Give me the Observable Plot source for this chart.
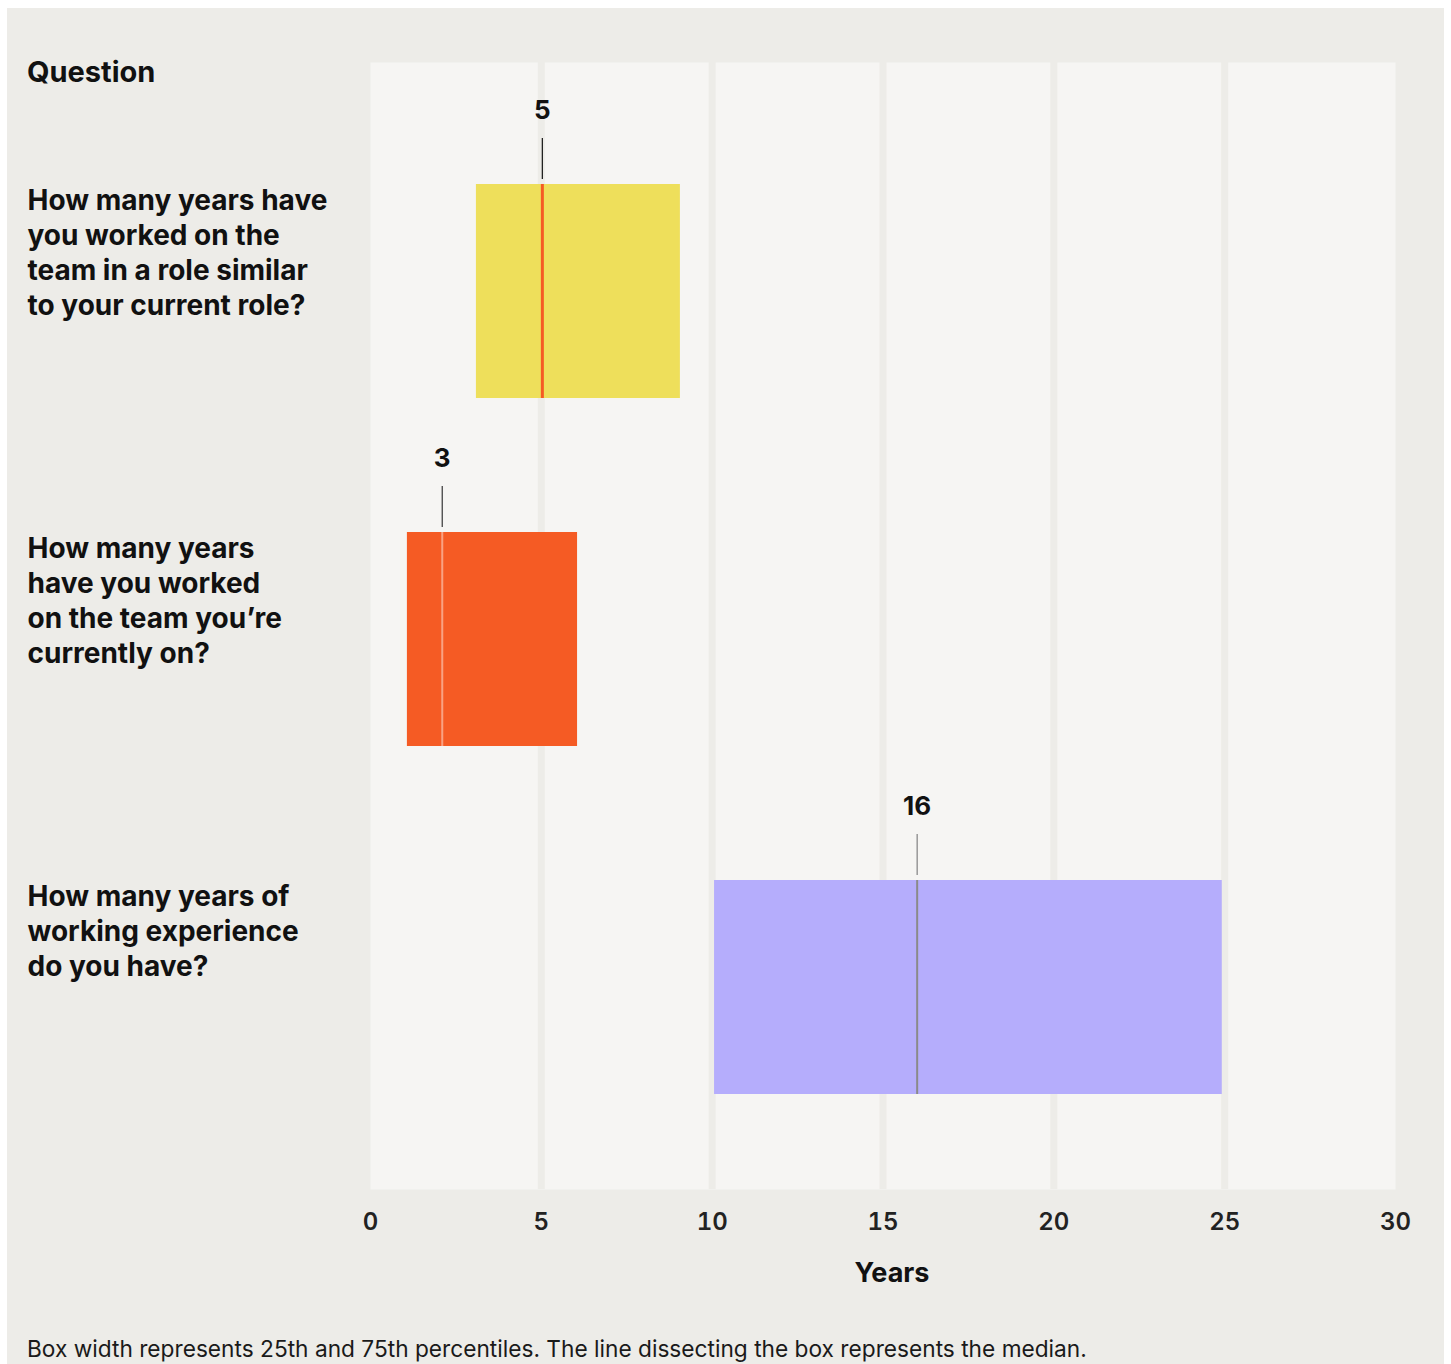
<!DOCTYPE html>
<html>
<head>
<meta charset="utf-8">
<script src="https://cdn.jsdelivr.net/npm/d3@7"></script>
<script src="https://cdn.jsdelivr.net/npm/@observablehq/plot@0.6"></script>
<style>
  html, body { margin: 0; padding: 0; background: #ffffff; }
  body { width: 1451px; height: 1364px; position: relative; overflow: hidden; font-family: Inter, "Noto Sans", sans-serif; }
  #panel { position: absolute; left: 7px; top: 8px; width: 1437px; height: 1356px; background: #EDECE8; }
  #header { position: absolute; left: 20px; top: 46px; font-size: 29px; font-weight: 700; color: #111; }
  #chart { position: absolute; left: 0; top: 0; }
  #caption { position: absolute; left: 20px; top: 1327px; font-size: 22.7px; font-weight: 400; color: #1a1a1a; white-space: nowrap; }
</style>
</head>
<body>
<div id="panel">
  <div id="chart"></div>
  <div id="header">Question</div>
  <div id="caption">Box width represents 25th and 75th percentiles. The line dissecting the box represents the median.</div>
</div>
<script>
// ---- data ----
const questions = [
  "How many years have\nyou worked on the\nteam in a role similar\nto your current role?",
  "How many years\nhave you worked\non the team you’re\ncurrently on?",
  "How many years of\nworking experience\ndo you have?"
];
const q1 = [3.1, 1.08, 10.07];
const medians = [5.03, 2.1, 16.0];
const q3 = [9.07, 6.06, 24.93];
const medianLabels = ["5", "3", "16"];
const xTicks = [0, 5, 10, 15, 20, 25, 30];

const rows = questions.map((q, i) => ({question: q, q1: q1[i], median: medians[i], q3: q3[i], label: medianLabels[i]}));

// ---- styles ----
const boxColors = ["#EEDF5B", "#F55B24", "#B5ADFC"];
const medianColors = ["#F55B24", "#F9A283", "#8A8A8A"];
const medianWidths = [3, 2, 2];
const leaderColors = ["#222222", "#444444", "#8A8A8A"];
const font = "Inter, 'Noto Sans', sans-serif";

const chart = Plot.plot({
  width: 1437,
  height: 1292,
  marginLeft: 363,
  marginRight: 49,
  marginTop: 54,
  marginBottom: 111,
  style: {background: "transparent", fontFamily: font, overflow: "visible"},
  x: {domain: [0, 30], ticks: xTicks, label: "Years"},
  y: {type: "band", domain: questions, range: [175, 1086], paddingInner: 0.386, paddingOuter: 0, axis: null},
  color: {domain: questions, range: boxColors},
  marks: [
    Plot.frame({fill: "#F6F5F3", stroke: null}),
    Plot.gridX([5, 10, 15, 20, 25], {stroke: "#EDECE8", strokeWidth: 7, strokeOpacity: 1}),
    Plot.axisX({
      ticks: xTicks, tickSize: 0, tickPadding: 23, fontSize: 24, fontWeight: 600,
      color: "#222", label: "Years", labelAnchor: "center", labelArrow: "none", labelOffset: 92
    }),
    Plot.barX(rows, {x1: "q1", x2: "q3", y: "question", fill: "question"}),
    ...rows.map((r, i) => Plot.tickX([r], {x: "median", y: "question", stroke: medianColors[i], strokeWidth: medianWidths[i]})),
    ...rows.map((r, i) => Plot.tickX([r], {x: "median", y: "question", stroke: leaderColors[i], strokeWidth: 1.3, insetBottom: 173, dy: -46})),
    Plot.text(rows, {x: "median", y: "question", text: "label", dy: -181, fontSize: 26, fontWeight: 700, fill: "#111"}),
    Plot.text(rows, {
      y: "question", text: "question", frameAnchor: "left", textAnchor: "start", lineAnchor: "top",
      dx: -343, dy: -106, fontSize: 28, fontWeight: 700, lineHeight: 1.25, fill: "#111"
    })
  ]
});
chart.querySelectorAll("g[aria-label='x-axis label'] text").forEach(t => {
  t.setAttribute("font-size", 27); t.setAttribute("font-weight", 700); t.setAttribute("fill", "#111");
  t.setAttribute("dx", 9);
});
document.getElementById("chart").appendChild(chart);
</script>
</body>
</html>
